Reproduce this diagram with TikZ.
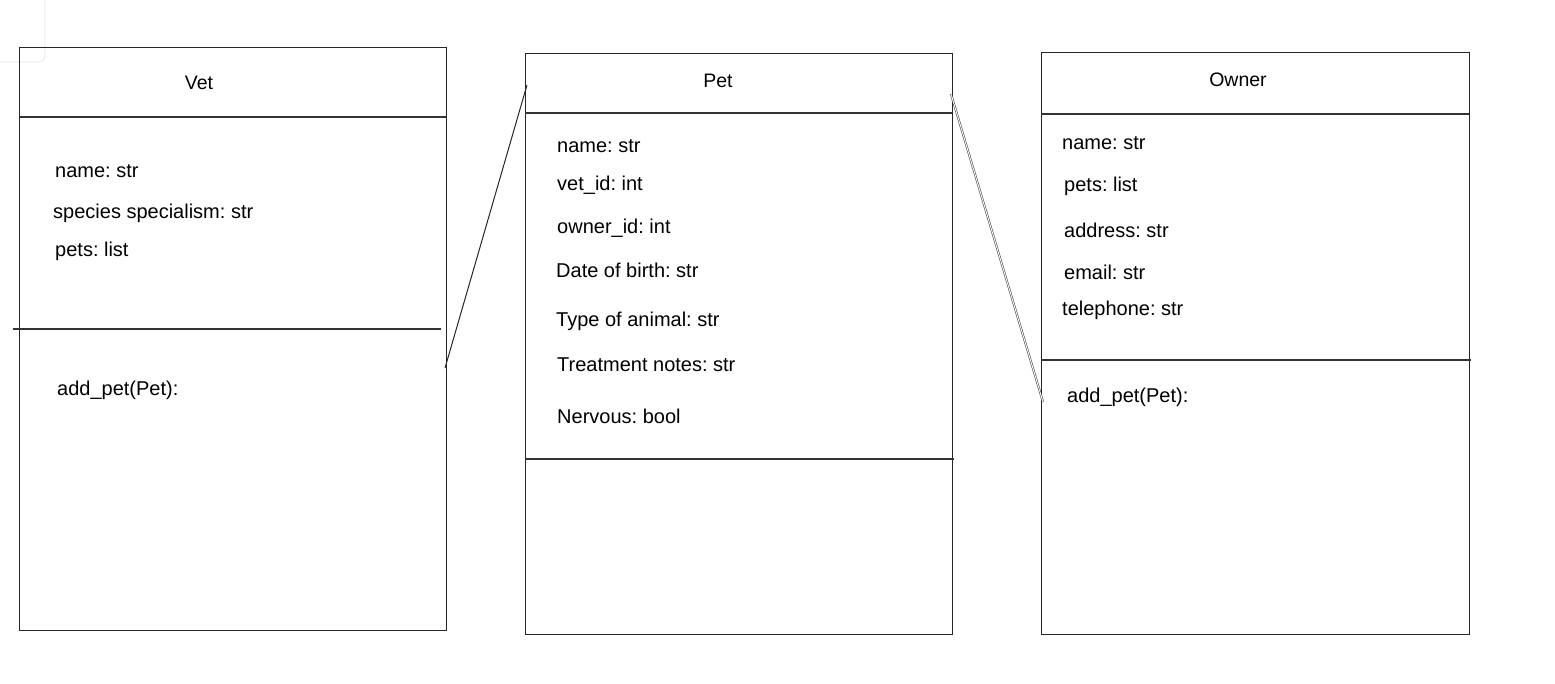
\documentclass[tikz,border=0pt]{standalone}
\usepackage{fontspec}
\setmainfont{Liberation Sans}
\begin{document}
\frenchspacing
\begin{tikzpicture}[x=1pt,y=-1pt,
  classbox/.style={draw=black!85,line width=1.2pt,rectangle,inner sep=0pt,anchor=north west},
  divider/.style={draw=black!80,line width=1.2pt},
  ttl/.style={anchor=base,inner sep=0pt,font=\fontsize{19.5}{23}\selectfont},
  attr/.style={anchor=base west,inner sep=0pt,font=\fontsize{20}{24}\selectfont},
  link/.style={draw=black!85,line width=1pt}]
\useasboundingbox (0,0) rectangle (1555,683);
% faint card at top-left
\draw[black!10,line width=0.8pt,rounded corners=6pt] (-10,62) -- (45,62) -- (45,-10);
% Vet
\node[classbox,minimum width=427pt,minimum height=583pt] (vet) at (19,47) {};
\draw[divider] (19,117) -- (446,117);
\draw[divider] (13,329) -- (441,329);
\node[ttl] (vett) at (199,89) {Vet};
\node[attr] (v1) at (55,177) {name: str};
\node[attr] (v2) at (53,218) {species specialism: str};
\node[attr] (v3) at (55,256) {pets: list};
\node[attr] (v4) at (57,395) {add\_pet(Pet):};
% Pet
\node[classbox,minimum width=427pt,minimum height=581pt] (pet) at (525,53) {};
\draw[divider] (525,113) -- (952,113);
\draw[divider] (525,459) -- (954,459);
\node[ttl] (pett) at (718,87) {Pet};
\node[attr] (p1) at (557,152) {name: str};
\node[attr] (p2) at (557,190) {vet\_id: int};
\node[attr] (p3) at (557,233) {owner\_id: int};
\node[attr] (p4) at (556,277) {Date of birth: str};
\node[attr] (p5) at (556,326) {Type of animal: str};
\node[attr] (p6) at (557,371) {Treatment notes: str};
\node[attr] (p7) at (557,423) {Nervous: bool};
% Owner
\node[classbox,minimum width=428pt,minimum height=582pt] (own) at (1041,52) {};
\draw[divider] (1041,114) -- (1469,114);
\draw[divider] (1041,360) -- (1471,360);
\node[ttl] (ownt) at (1238,86) {Owner};
\node[attr] (o1) at (1062,149) {name: str};
\node[attr] (o2) at (1064,191) {pets: list};
\node[attr] (o3) at (1064,237) {address: str};
\node[attr] (o4) at (1064,279) {email: str};
\node[attr] (o5) at (1062,315) {telephone: str};
\node[attr] (o6) at (1067,402) {add\_pet(Pet):};
% connectors
\coordinate (vetR) at (445,368);
\coordinate (petL) at (527,85);
\coordinate (petR) at (951,94);
\coordinate (ownL) at (1043,402);
\draw[link] (vetR) -- (petL);
\draw[draw=black!70,line width=0.6pt,double=white,double distance=0.9pt] (petR) -- (ownL);
\end{tikzpicture}
\end{document}
